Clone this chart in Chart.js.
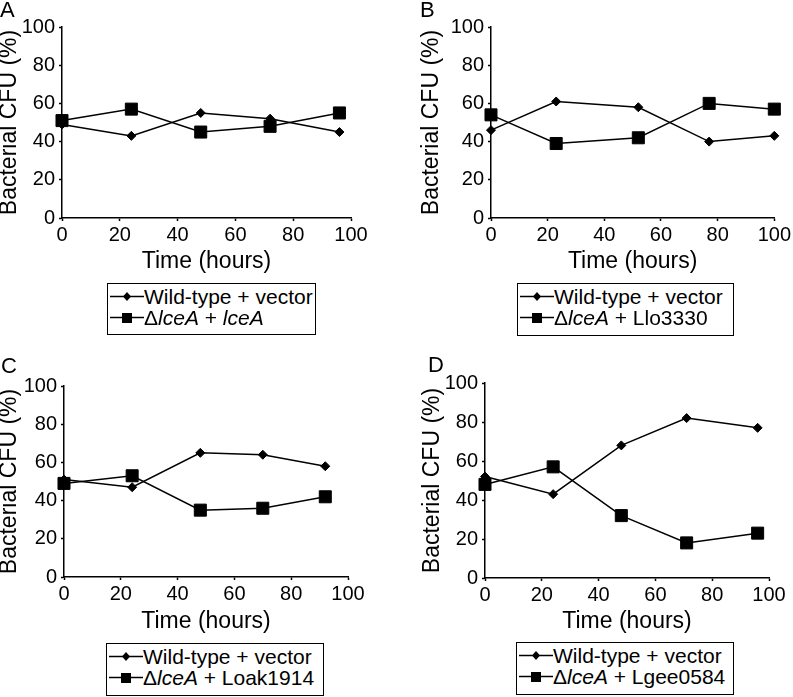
<!DOCTYPE html>
<html><head><meta charset="utf-8">
<script src="https://cdn.jsdelivr.net/npm/chart.js@4"></script>
<style>
html,body{margin:0;padding:0;background:#fff;}
body{width:793px;height:697px;position:relative;overflow:hidden;font-family:"Liberation Sans",Arial,sans-serif;color:#000;}
canvas{position:absolute;}
.letter{position:absolute;font-size:22px;line-height:22px;}
.legend{position:absolute;border:1.5px solid #000;box-sizing:border-box;font-size:21px;padding-top:2px;background:#fff;}
.row{display:flex;align-items:center;height:21px;line-height:21px;white-space:nowrap;}
.row svg{flex:none;margin-left:2px;margin-right:0;}
</style></head>
<body>
<canvas id="cA"></canvas><canvas id="cB"></canvas><canvas id="cC"></canvas><canvas id="cD"></canvas>
<div class="letter" style="left:0;top:-1px">A</div>
<div class="letter" style="left:420px;top:-1px">B</div>
<div class="letter" style="left:1px;top:355px">C</div>
<div class="letter" style="left:428px;top:354px">D</div>
<div id="lA" class="legend" style="left:107px;top:283px;width:209px;height:52px"></div>
<div id="lB" class="legend" style="left:517px;top:283px;width:217px;height:53px"></div>
<div id="lC" class="legend" style="left:106px;top:643px;width:218px;height:53px"></div>
<div id="lD" class="legend" style="left:516px;top:642px;width:218px;height:53px"></div>
<script>
// ---- data ----
const xLabel = 'Time (hours)';
const yLabel = 'Bacterial CFU (%)';
const wtLabel = 'Wild-type + vector';

const timeA = [0, 24, 48, 72, 96];
const wildTypeA = [49, 43, 55, 52, 45];
const mutantA = [51, 57, 45, 48, 55];
const complementA = '<i>lceA</i>';

const timeB = [0, 23, 52, 77, 100];
const wildTypeB = [46, 61, 58, 40, 43];
const mutantB = [54, 39, 42, 60, 57];
const complementB = 'Llo3330';

const timeC = [0, 24, 48, 70, 92];
const wildTypeC = [51, 47, 65, 64, 58];
const mutantC = [49, 53, 35, 36, 42];
const complementC = 'Loak1914';

const timeD = [0, 24, 48, 71, 96];
const wildTypeD = [52, 43, 68, 82, 77];
const mutantD = [48, 57, 32, 18, 23];
const complementD = 'Lgee0584';

const axisMin = 0, axisMax = 100, axisStep = 20;

// ---- layout ----
const FONT = '"Liberation Sans", Arial, sans-serif';
Chart.defaults.font.family = FONT;
Chart.defaults.color = '#000';

const layouts = {
  A: {left:0,   top:0,   w:396, h:280, padLeft:0,  padTop:27, padRight:45, yWidth:62, xHeight:62},
  B: {left:400, top:0,   w:393, h:280, padLeft:22, padTop:27, padRight:18, yWidth:69, xHeight:62},
  C: {left:0,   top:340, w:396, h:300, padLeft:0,  padTop:46, padRight:48, yWidth:64, xHeight:63},
  D: {left:400, top:340, w:393, h:300, padLeft:23, padTop:43, padRight:24, yWidth:62, xHeight:62}
};

function pts(xs, ys){ return xs.map((x,i)=>({x:x, y:ys[i]})); }

function makeChart(key, xs, wt, mut, compl){
  const L = layouts[key];
  const cv = document.getElementById('c'+key);
  cv.width = L.w; cv.height = L.h;
  cv.style.left = L.left+'px'; cv.style.top = L.top+'px';
  cv.style.width = L.w+'px'; cv.style.height = L.h+'px';
  const axisCommon = {
    type:'linear', min:axisMin, max:axisMax,
    grid:{drawOnChartArea:false, drawTicks:true, tickLength:3, tickColor:'#000', tickWidth:1.5},
    border:{display:true, color:'#000', width:1.5}
  };
  new Chart(cv, {
    type:'line',
    data:{datasets:[
      {label:wtLabel, data:pts(xs, wt), borderColor:'#000', backgroundColor:'#000',
       borderWidth:1.5, pointStyle:'rectRot', pointRadius:4.5, pointBorderWidth:1, clip:false, tension:0},
      {label:'ΔlceA + '+compl, data:pts(xs, mut), borderColor:'#000', backgroundColor:'#000',
       borderWidth:1.5, pointStyle:'rect', pointRadius:8.5, pointBorderWidth:1, clip:false, tension:0}
    ]},
    options:{
      responsive:false, animation:false, devicePixelRatio:1,
      layout:{padding:{left:L.padLeft, top:L.padTop, right:L.padRight, bottom:0}},
      plugins:{legend:{display:false}, tooltip:{enabled:false}},
      scales:{
        x:Object.assign({}, axisCommon, {
          position:'bottom',
          ticks:{stepSize:axisStep, color:'#000', font:{family:FONT, size:20}, padding:2, maxRotation:0, autoSkip:false},
          title:{display:true, text:xLabel, color:'#000', font:{family:FONT, size:23, lineHeight:1}, padding:{top:0, bottom:6.5}},
          afterFit:(s)=>{ s.height = L.xHeight; }
        }),
        y:Object.assign({}, axisCommon, {
          position:'left',
          ticks:{stepSize:axisStep, color:'#000', font:{family:FONT, size:20}, padding:4},
          title:{display:true, text:yLabel, color:'#000', font:{family:FONT, size:23, lineHeight:1}, padding:{top:-1.5, bottom:0}},
          afterFit:(s)=>{ s.width = L.yWidth; }
        })
      }
    }
  });
}

function symbolSvg(kind){
  const marker = kind === 'diamond'
    ? '<polygon points="17,6 21,10.5 17,15 13,10.5" fill="#000"/>'
    : '<rect x="12" y="6" width="10" height="10" fill="#000"/>';
  return '<svg width="34" height="21" viewBox="0 0 34 21"><line x1="0" y1="10.5" x2="34" y2="10.5" stroke="#000" stroke-width="1.5"/>'+marker+'</svg>';
}

function makeLegend(key, compl){
  const el = document.getElementById('l'+key);
  el.innerHTML =
    '<div class="row">'+symbolSvg('diamond')+'<span>'+wtLabel+'</span></div>'+
    '<div class="row">'+symbolSvg('square')+'<span>Δ<i>lceA</i> + '+compl+'</span></div>';
}

makeChart('A', timeA, wildTypeA, mutantA, 'lceA');
makeChart('B', timeB, wildTypeB, mutantB, complementB);
makeChart('C', timeC, wildTypeC, mutantC, complementC);
makeChart('D', timeD, wildTypeD, mutantD, complementD);
makeLegend('A', complementA);
makeLegend('B', complementB);
makeLegend('C', complementC);
makeLegend('D', complementD);
</script>
</body></html>
